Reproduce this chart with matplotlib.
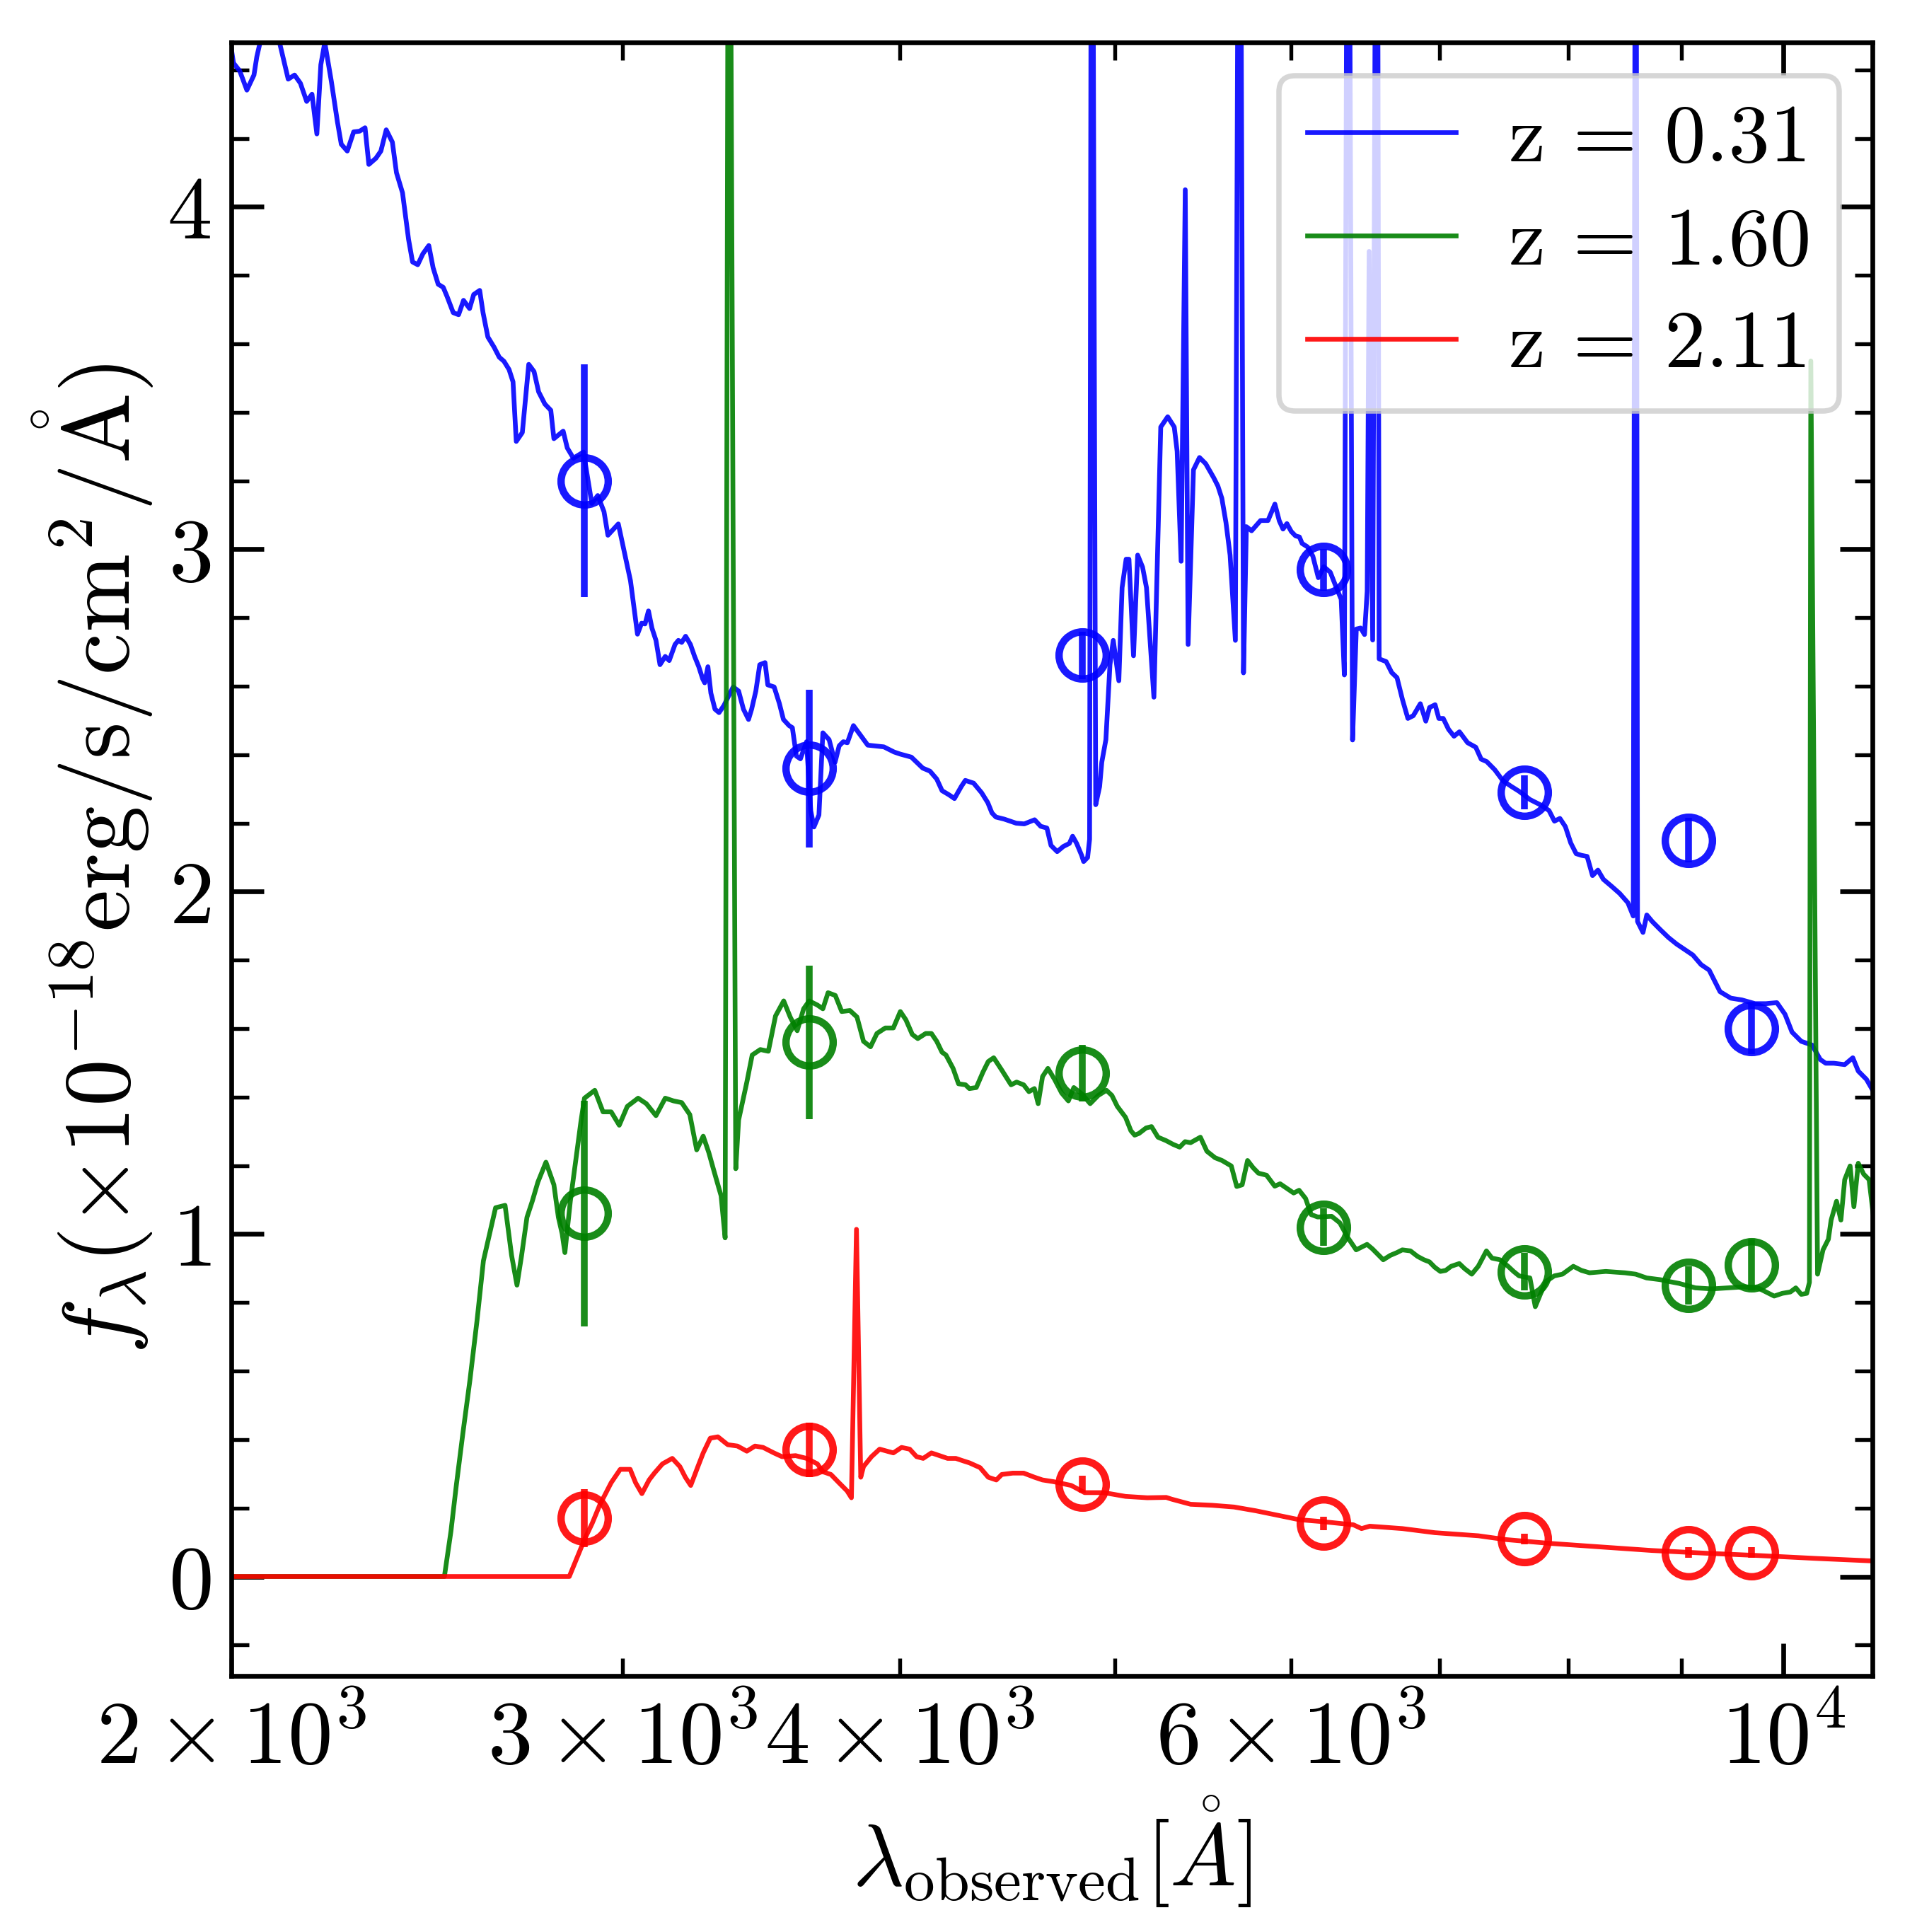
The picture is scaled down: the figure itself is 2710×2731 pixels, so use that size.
import numpy as np
import matplotlib
matplotlib.use('Agg')
import matplotlib.pyplot as plt

plt.rcParams['font.family'] = 'serif'
plt.rcParams['font.serif'] = ['cmr10']
plt.rcParams['mathtext.fontset'] = 'cm'
plt.rcParams['axes.formatter.use_mathtext'] = True
plt.rcParams['axes.unicode_minus'] = False

# observed wavelength of the photometric bands (AA)
band_wave = [2884, 3640, 4832, 6208, 7645, 9064, 9673]

labels = ['z = 0.31', 'z = 1.60', 'z = 2.11']
colors = ['b', 'g', 'r']

# photometry, 1e-18 erg/s/cm2/AA
phot_z031 = [3.20, 2.36, 2.69, 2.94, 2.29, 2.15, 1.60]
err_z031 = [0.34, 0.23, 0.07, 0.06, 0.05, 0.065, 0.075]
phot_z160 = [1.06, 1.56, 1.47, 1.02, 0.89, 0.85, 0.91]
err_z160 = [0.33, 0.225, 0.083, 0.055, 0.055, 0.055, 0.075]
phot_z211 = [0.17, 0.37, 0.27, 0.155, 0.11, 0.07, 0.07]
err_z211 = [0.085, 0.08, 0.025, 0.02, 0.015, 0.015, 0.015]

# model spectra
wave_z031 = [1990, 2004, 2017, 2032, 2047, 2053, 2060, 2080, 2102, 2121, 2135, 2148, 2162, 2174,
             2185, 2194, 2203, 2218, 2232, 2241, 2255, 2270, 2284, 2297, 2306, 2323, 2335, 2348,
             2363, 2373, 2388, 2403, 2413, 2426, 2439, 2454, 2465, 2478, 2491, 2501, 2517, 2531,
             2544, 2560, 2571, 2587, 2596, 2609, 2626, 2640, 2653, 2667, 2678, 2687, 2704, 2722,
             2737, 2750, 2768, 2785, 2794, 2821, 2833, 2851, 2881, 2906, 2924, 2943, 2955, 2987,
             3006, 3025, 3047, 3060, 3071, 3082, 3093, 3106, 3119, 3136, 3149, 3168, 3179, 3190,
             3203, 3219, 3233, 3247, 3260, 3267, 3278, 3288, 3302, 3316, 3333, 3347, 3365, 3384,
             3401, 3419, 3430, 3445, 3459, 3478, 3488, 3511, 3530, 3545, 3566, 3578, 3593, 3608,
             3631, 3647, 3659, 3678, 3693, 3717, 3740, 3756, 3772, 3788, 3812, 3836, 3869, 3934,
             3976, 4001, 4048, 4096, 4127, 4156, 4179, 4209, 4233, 4263, 4281, 4318, 4354, 4382,
             4401, 4419, 4457, 4513, 4551, 4600, 4629, 4659, 4679, 4709, 4739, 4769, 4785, 4805,
             4830, 4840, 4860, 4870, 4881, 4901, 4921, 4932, 4953, 4974, 4991, 5020, 5037, 5058,
             5073, 5097, 5119, 5145, 5166, 5206, 5243, 5281, 5317, 5333, 5355, 5378, 5394, 5424,
             5458, 5493, 5539, 5563, 5586, 5610, 5634, 5665, 5689, 5713, 5730, 5761, 5815, 5860,
             5902, 5929, 5952, 5976, 6003, 6030, 6054, 6071, 6105, 6139, 6174, 6209, 6251, 6286,
             6322, 6343, 6368, 6397, 6422, 6451, 6477, 6495, 6508, 6532, 6561, 6576, 6624, 6662,
             6699, 6737, 6775, 6813, 6863, 6902, 6929, 6969, 6996, 7028, 7067, 7107, 7147, 7208,
             7269, 7310, 7352, 7414, 7477, 7540, 7604, 7690, 7777, 7843, 7887, 7932, 7977, 8022,
             8067, 8113, 8159, 8205, 8251, 8298, 8368, 8439, 8511, 8559, 8582, 8597, 8646, 8680,
             8729, 8803, 8878, 8953, 9029, 9105, 9183, 9260, 9365, 9471, 9579, 9712, 9822, 9934,
             10018, 10091, 10188, 10304, 10391, 10450, 10538, 10658, 10748, 10809, 10901, 10981,
             11040]
flux_z031 = [4.55, 4.42, 4.397, 4.341, 4.385, 4.438, 4.48, 4.62, 4.48, 4.373, 4.385, 4.361, 4.308,
             4.329, 4.213, 4.415, 4.48, 4.367, 4.249, 4.183, 4.163, 4.219, 4.221, 4.231, 4.124,
             4.142, 4.163, 4.225, 4.189, 4.100, 4.041, 3.905, 3.839, 3.831, 3.863, 3.887, 3.822,
             3.774, 3.765, 3.738, 3.691, 3.685, 3.727, 3.703, 3.744, 3.756, 3.691, 3.620, 3.590,
             3.561, 3.549, 3.525, 3.489, 3.315, 3.341, 3.540, 3.519, 3.460, 3.424, 3.406, 3.323,
             3.345, 3.296, 3.266, 3.284, 3.134, 3.157, 3.110, 3.041, 3.074, 2.991, 2.908, 2.752,
             2.784, 2.782, 2.820, 2.770, 2.734, 2.663, 2.687, 2.675, 2.722, 2.734, 2.728, 2.746,
             2.722, 2.687, 2.657, 2.622, 2.610, 2.657, 2.580, 2.533, 2.523, 2.544, 2.568, 2.598,
             2.586, 2.533, 2.503, 2.533, 2.586, 2.663, 2.669, 2.604, 2.598, 2.550, 2.503, 2.485,
             2.479, 2.396, 2.388, 2.438, 2.236, 2.189, 2.224, 2.464, 2.444, 2.378, 2.426, 2.438,
             2.435, 2.485, 2.461, 2.428, 2.423, 2.408, 2.402, 2.393, 2.361, 2.352, 2.329, 2.295,
             2.283, 2.272, 2.307, 2.325, 2.317, 2.289, 2.260, 2.230, 2.218, 2.212, 2.200, 2.198,
             2.210, 2.191, 2.186, 2.135, 2.117, 2.132, 2.141, 2.162, 2.141, 2.106, 2.088, 2.100,
             2.153, 6.0, 2.254, 2.307, 2.378, 2.444, 2.663, 2.734, 2.616, 2.888, 2.971, 2.971,
             2.689, 2.983, 2.948, 2.888, 2.568, 3.357, 3.387, 3.357, 3.286, 2.965, 4.05, 2.722,
             3.232, 3.268, 3.250, 3.209, 3.185, 3.149, 3.078, 2.983, 2.734, 6.0, 2.639, 3.066,
             3.054, 3.084, 3.084, 3.132, 3.083, 3.059, 3.075, 3.052, 3.039, 3.036, 3.017, 3.007,
             2.980, 2.917, 2.949, 2.933, 2.893, 2.854, 2.633, 6.0, 2.443, 2.767, 2.770, 2.751,
             2.878, 3.87, 2.735, 6.0, 2.680, 2.672, 2.640, 2.625, 2.561, 2.506, 2.514, 2.549,
             2.498, 2.538, 2.546, 2.506, 2.506, 2.474, 2.454, 2.467, 2.435, 2.422, 2.387, 2.380,
             2.356, 2.324, 2.308, 2.293, 2.269, 2.253, 2.237, 2.206, 2.214, 2.190, 2.142, 2.111,
             2.106, 2.103, 2.047, 2.063, 2.036, 2.016, 1.995, 1.968, 1.929, 6.0, 1.913, 1.881,
             1.932, 1.913, 1.889, 1.866, 1.847, 1.831, 1.815, 1.787, 1.771, 1.708, 1.689, 1.684,
             1.673, 1.673, 1.676, 1.642, 1.590, 1.563, 1.552, 1.510, 1.499, 1.499, 1.495, 1.515,
             1.476, 1.452, 1.416, 1.397]

wave_z160 = [1900, 2494, 2511, 2525, 2542, 2561, 2580, 2597, 2630, 2656, 2674, 2689, 2702, 2717,
             2732, 2748, 2771, 2794, 2807, 2818, 2826, 2842, 2858, 2874, 2884, 2915, 2940, 2965,
             2990, 3015, 3049, 3075, 3106, 3136, 3163, 3190, 3217, 3240, 3262, 3281, 3299, 3323,
             3337, 3350, 3374, 3384, 3413, 3432, 3461, 3490, 3516, 3546, 3570, 3596, 3620, 3641,
             3672, 3693, 3713, 3741, 3766, 3798, 3826, 3852, 3880, 3906, 3940, 3973, 4002, 4025,
             4052, 4075, 4109, 4133, 4156, 4179, 4196, 4227, 4251, 4282, 4299, 4330, 4360, 4384,
             4409, 4446, 4489, 4515, 4548, 4573, 4599, 4617, 4638, 4664, 4696, 4731, 4764, 4791,
             4832, 4873, 4914, 4956, 4984, 5012, 5055, 5083, 5103, 5126, 5164, 5193, 5228, 5272,
             5311, 5347, 5377, 5408, 5463, 5500, 5547, 5587, 5641, 5673, 5705, 5737, 5770, 5802,
             5851, 5901, 5934, 5968, 6018, 6052, 6093, 6128, 6170, 6260, 6313, 6367, 6421, 6457,
             6494, 6530, 6567, 6604, 6653, 6698, 6736, 6793, 6843, 6889, 6928, 6967, 7007, 7046,
             7086, 7146, 7186, 7239, 7288, 7350, 7392, 7454, 7517, 7560, 7603, 7646, 7689, 7732,
             7776, 7820, 7886, 7953, 8043, 8111, 8180, 8319, 8485, 8581, 8678, 8801, 8876, 8976,
             9129, 9285, 9443, 9604, 9740, 9822, 9906, 9990, 10074, 10131, 10188, 10246, 10275,
             10290, 10362, 10421, 10479, 10509, 10568, 10616, 10658, 10718, 10760, 10809, 10870,
             10931, 10993, 11043]
flux_z160 = [0.0, 0.0, 0.132, 0.266, 0.416, 0.574, 0.749, 0.922, 1.077, 1.084, 0.938, 0.851, 0.938,
             1.049, 1.096, 1.152, 1.210, 1.144, 1.049, 1.001, 0.946, 1.096, 1.215, 1.333, 1.397,
             1.420, 1.357, 1.357, 1.318, 1.373, 1.397, 1.381, 1.346, 1.397, 1.389, 1.384, 1.349,
             1.246, 1.286, 1.238, 1.183, 1.112, 0.989, 6.0, 1.191, 1.333, 1.444, 1.523, 1.539,
             1.534, 1.637, 1.681, 1.634, 1.594, 1.658, 1.681, 1.669, 1.658, 1.705, 1.697, 1.650,
             1.653, 1.634, 1.563, 1.547, 1.586, 1.602, 1.602, 1.650, 1.626, 1.583, 1.571, 1.586,
             1.586, 1.563, 1.531, 1.523, 1.484, 1.439, 1.436, 1.425, 1.428, 1.473, 1.504, 1.515,
             1.479, 1.436, 1.444, 1.436, 1.416, 1.425, 1.381, 1.460, 1.484, 1.452, 1.412, 1.389,
             1.428, 1.409, 1.381, 1.405, 1.420, 1.405, 1.373, 1.341, 1.302, 1.289, 1.294, 1.310,
             1.314, 1.283, 1.273, 1.262, 1.254, 1.270, 1.267, 1.283, 1.242, 1.223, 1.215, 1.199,
             1.139, 1.144, 1.215, 1.194, 1.178, 1.172, 1.140, 1.147, 1.136, 1.120, 1.128, 1.104,
             1.057, 1.050, 1.052, 1.033, 0.989, 0.954, 0.962, 0.970, 0.957, 0.941, 0.925, 0.938,
             0.946, 0.954, 0.951, 0.935, 0.925, 0.919, 0.903, 0.891, 0.894, 0.906, 0.914, 0.899,
             0.883, 0.906, 0.951, 0.930, 0.925, 0.906, 0.891, 0.878, 0.875, 0.872, 0.788, 0.827,
             0.862, 0.878, 0.883, 0.906, 0.894, 0.887, 0.891, 0.887, 0.883, 0.872, 0.867, 0.862,
             0.856, 0.843, 0.840, 0.843, 0.846, 0.843, 0.831, 0.819, 0.827, 0.831, 0.843, 0.824,
             0.827, 0.859, 3.55, 0.883, 0.954, 0.985, 1.041, 1.096, 1.041, 1.159, 1.199, 1.080,
             1.207, 1.175, 1.159, 1.025, 1.175]

wave_z211 = [1900, 2839, 2861, 2884, 2907, 2931, 2965, 2993, 3024, 3041, 3061, 3084, 3101, 3127,
             3159, 3184, 3202, 3220, 3244, 3262, 3286, 3312, 3346, 3380, 3413, 3442, 3471, 3510,
             3540, 3590, 3631, 3672, 3693, 3724, 3755, 3787, 3804, 3824, 3841, 3852, 3884, 3917,
             3973, 4007, 4041, 4070, 4098, 4133, 4168, 4203, 4239, 4275, 4299, 4347, 4384, 4421,
             4446, 4497, 4548, 4599, 4638, 4691, 4778, 4845, 4942, 5055, 5170, 5273, 5302, 5408,
             5531, 5657, 5786, 5918, 6052, 6208, 6403, 6457, 6512, 6736, 6967, 7288, 7496, 7842,
             8249, 8727, 9232, 9767, 10333, 11100]
flux_z211 = [0.0, 0.0, 0.053, 0.108, 0.155, 0.211, 0.274, 0.313, 0.313, 0.274, 0.242, 0.282,
             0.302, 0.329, 0.345, 0.321, 0.290, 0.266, 0.321, 0.361, 0.404, 0.408, 0.385, 0.381,
             0.366, 0.381, 0.377, 0.361, 0.350, 0.353, 0.345, 0.329, 0.306, 0.298, 0.274, 0.250,
             0.230, 1.014, 0.290, 0.321, 0.350, 0.372, 0.361, 0.377, 0.372, 0.350, 0.345, 0.361,
             0.353, 0.345, 0.345, 0.337, 0.332, 0.318, 0.290, 0.282, 0.298, 0.302, 0.302, 0.290,
             0.282, 0.277, 0.266, 0.245, 0.245, 0.234, 0.230, 0.231, 0.226, 0.211, 0.208, 0.203,
             0.192, 0.179, 0.166, 0.160, 0.151, 0.140, 0.147, 0.140, 0.128, 0.119, 0.108, 0.097,
             0.087, 0.076, 0.068, 0.061, 0.053, 0.044]

spectra = [(wave_z031, flux_z031), (wave_z160, flux_z160), (wave_z211, flux_z211)]
photometry = [(phot_z031, err_z031), (phot_z160, err_z160), (phot_z211, err_z211)]

fig = plt.figure(figsize=(2710 / 300, 2731 / 300), dpi=300)
ax = fig.add_axes([0.1208, 0.1326, 0.856, 0.8454])

for (w, f), (p, e), c, lab in zip(spectra, photometry, colors, labels):
    ax.plot(w, f, color=c, lw=1.6, alpha=0.9, label=lab)
    ax.errorbar(band_wave, p, yerr=e, fmt='o', mfc='none', mec=c, ecolor=c,
                ms=16, mew=2.5, elinewidth=2.3, capsize=0, alpha=0.9)

ax.set_xscale('log')
ax.set_xlim(2000, 10970)
ax.set_ylim(-0.29, 4.48)
ax.yaxis.set_major_locator(plt.MultipleLocator(1))
ax.yaxis.set_minor_locator(plt.MultipleLocator(0.2))

ax.tick_params(which='both', direction='in', top=True, right=True, labelsize=30.5)
ax.tick_params(which='major', length=11, width=1.6)
ax.tick_params(which='minor', length=6, width=1.3)
ax.tick_params(axis='x', which='both', pad=8)
ax.tick_params(axis='y', which='both', pad=7)
for sp in ax.spines.values():
    sp.set_linewidth(1.6)

ax.set_xlabel(r'$\lambda_{\rm observed} [\mathring{A}]$', fontsize=30)
ax.set_ylabel(r'$f_{\lambda} (\times 10^{-18} {\rm erg/s/cm^2/\mathring{A}})$', fontsize=32)

leg = ax.legend(loc='upper right', fontsize=28, handlelength=1.8, labelspacing=0.36,
                borderpad=0.34, handletextpad=0.65, borderaxespad=0.4)
leg.get_frame().set_linewidth(1.8)

fig.savefig('out.png', dpi=300)
